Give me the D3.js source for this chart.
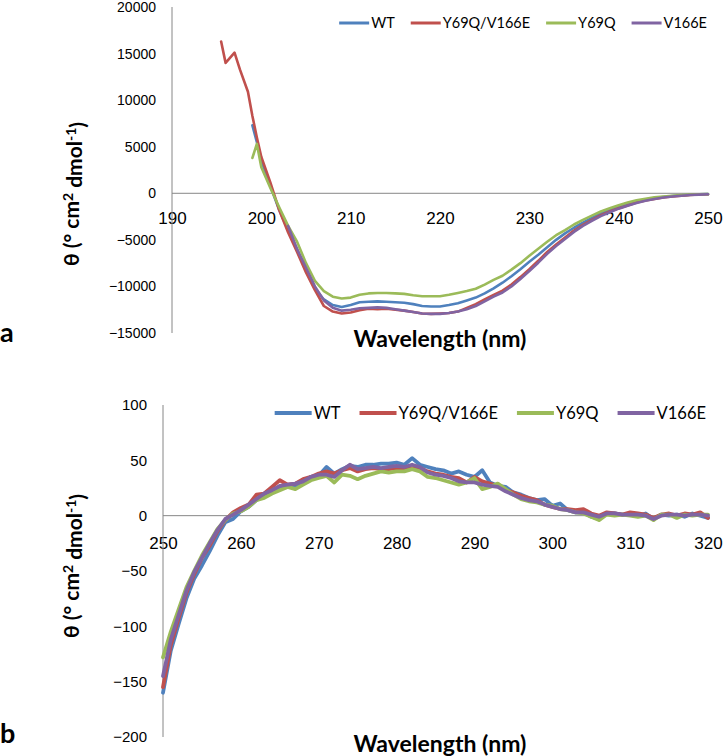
<!DOCTYPE html>
<html>
<head>
<meta charset="utf-8">
<style>
    body { margin: 0; background: #fff; }
    svg { display: block; font-family: 'Lato', sans-serif; }
    .tick text { fill: #000; }
</style>
</head>
<body>
<svg width="725" height="756"></svg>

<script src="https://cdnjs.cloudflare.com/ajax/libs/d3/7.8.5/d3.min.js"></script>
<script>
    // series names + excel 2007 colours
    const seriesNames = ["WT", "Y69Q/V166E", "Y69Q", "V166E"]
    const seriesColors = ["#4F81BD", "#C0504D", "#9BBB59", "#8064A2"]

    // ---- panel a : far UV ----
    const farWl = [195.5, 196, 197, 197.6, 198.5, 199, 199.5,
        200, 201, 202, 203, 204, 205, 206, 207, 208, 209,
        210, 211, 212, 213, 214, 215, 216, 217, 218, 219,
        220, 221, 222, 223, 224, 225, 226, 227, 228, 229,
        230, 231, 232, 233, 234, 235, 236, 237, 238, 239,
        240, 241, 242, 243, 244, 245, 246, 247, 248, 249, 250]

    const farWT = [null, null, null, null, null, 7300, 5500,
        3500, 800, -1800, -4000, -6000, -8300, -10200, -11400, -12000, -12200,
        -12000, -11700, -11650, -11600, -11650, -11700, -11750, -11900, -12100, -12150,
        -12150, -12000, -11800, -11500, -11200, -10750, -10200, -9600, -8900, -8150,
        -7350, -6600, -5800, -5000, -4300, -3700, -3150, -2650, -2150, -1800,
        -1450, -1150, -880, -680, -520, -400, -300, -220, -160, -120, -90]

    const farY69QV166E = [16300, 14000, 15100, 13300, 10900, 8300, 6000,
        3900, 1200, -1800, -4200, -6300, -8500, -10400, -12100, -12700, -12900,
        -12800, -12550, -12400, -12450, -12400, -12500, -12600, -12750, -12900, -12950,
        -12900, -12850, -12700, -12300, -11900, -11400, -10900, -10450, -9800, -9000,
        -8150, -7250, -6300, -5500, -4750, -4000, -3400, -2850, -2350, -1950,
        -1600, -1300, -1000, -780, -600, -450, -340, -250, -180, -130, -100]

    const farY69Q = [null, null, null, null, null, 3800, 5300,
        2800, 600, -1500, -3500, -5200, -7500, -9400, -10500, -11100, -11300,
        -11200, -10900, -10750, -10700, -10700, -10750, -10800, -10950, -11050, -11050,
        -11050, -10900, -10700, -10500, -10250, -9800, -9300, -8850, -8200, -7500,
        -6700, -5950, -5200, -4500, -3950, -3350, -2850, -2400, -1950, -1600,
        -1280, -1000, -750, -580, -440, -340, -260, -190, -140, -110, -90]

    const farV166E = [null, null, null, null, null, null, null,
        null, null, null, -3500, -6000, -8000, -10000, -11500, -12300, -12600,
        -12500, -12350, -12300, -12250, -12300, -12450, -12600, -12750, -12900, -12950,
        -12950, -12850, -12700, -12450, -12100, -11600, -11100, -10650, -10000, -9200,
        -8350, -7450, -6500, -5650, -4900, -4150, -3500, -2950, -2450, -2030,
        -1650, -1330, -1040, -800, -620, -460, -350, -260, -190, -140, -100]

    const farXTicks = [190, 200, 210, 220, 230, 240, 250]
    const farYTicks = [-15000, -10000, -5000, 0, 5000, 10000, 15000, 20000]

    // ---- panel b : near UV ----
    const nearWl = d3.range(250, 321) // 1 nm steps, 250..320

    const nearWT = [-160, -122, -98, -75, -57, -45, -32, -18, -6, -3,
        4, 8, 14, 19, 23, 25, 27, 26, 31, 35,
        36, 44, 38, 42, 45, 44, 46, 46, 47, 47,
        48, 46, 52, 46, 44, 42, 41, 38, 40, 37,
        35, 41, 30, 27, 26, 21, 19, 16, 14, 15,
        9, 11, 5, 3, 3, -1, -3, 2, 2, 1,
        1, 0, 2, -3, 1, 0, 1, -1, 2, 0, -2]

    const nearY69QV166E = [-155, -117, -93, -70, -53, -38, -27, -14, -4, 3,
        7, 10, 19, 20, 26, 32, 28, 29, 33, 35,
        38, 40, 38, 41, 43, 40, 42, 43, 42, 42,
        43, 42, 43, 43, 40, 38, 37, 35, 34, 30,
        35, 31, 29, 27, 23, 21, 18, 16, 14, 10,
        8, 6, 6, 5, 6, 2, 0, 3, 2, 1,
        3, 2, 1, -2, 1, 2, 0, 2, 1, 3, -2]

    const nearY69Q = [-128, -105, -85, -65, -50, -36, -24, -12, -4, 2,
        4, 8, 14, 16, 20, 23, 26, 24, 28, 32,
        34, 36, 30, 37, 36, 33, 36, 38, 40, 39,
        40, 40, 42, 40, 35, 34, 32, 30, 28, 30,
        34, 24, 26, 29, 24, 19, 15, 13, 12, 10,
        9, 6, 5, 3, 2, -1, -4, 1, 0, 1,
        0, -1, 0, -4, 1, 1, -2, 1, 0, 1, 1]

    const nearV166E = [-145, -112, -90, -68, -51, -38, -25, -13, -3, 1,
        5, 10, 15, 20, 23, 27, 28, 29, 31, 35,
        37, 37, 35, 41, 46, 42, 43, 44, 43, 44,
        45, 44, 46, 44, 39, 37, 36, 34, 31, 30,
        30, 28, 27, 26, 22, 19, 16, 14, 13, 10,
        8, 6, 5, 3, 3, 1, -1, 2, 2, 1,
        1, 1, 0, -3, 0, 1, 1, 0, 1, 1, 0]

    const nearXTicks = [250, 260, 270, 280, 290, 300, 310, 320]
    const nearYTicks = [-200, -150, -100, -50, 0, 50, 100]

    const svg = d3.select("svg")
    const axisColor = "#868686"

    function drawPanel(cfg) {
        let g = svg.append("g")

        let x = d3.scaleLinear().domain(cfg.xDomain).range(cfg.xRange)
        let y = d3.scaleLinear().domain(cfg.yDomain).range(cfg.yRange)

        // y axis
        let yAx = g.append("g")
            .attr("transform", `translate(${cfg.xRange[0]},0)`)
            .call(d3.axisLeft(y).tickValues(cfg.yTicks).tickSize(0).tickPadding(16).tickFormat(d3.format("d")))
        yAx.select(".domain").remove()
        yAx.selectAll("text").style("font-size", cfg.yTickSize + "px")

        // x axis sits on zero
        let xAx = g.append("g")
            .attr("transform", `translate(0,${y(0)})`)
            .call(d3.axisBottom(x).tickValues(cfg.xTicks).tickSize(0).tickPadding(cfg.xPad).tickFormat(d3.format("d")))
        xAx.select(".domain").remove()
        xAx.selectAll("text").style("font-size", cfg.xTickSize + "px")

        g.append("line")
            .attr("x1", x(cfg.xDomain[0])).attr("x2", x(cfg.xDomain[0]))
            .attr("y1", y(cfg.yDomain[0])).attr("y2", y(cfg.yDomain[1]))
            .style("stroke", axisColor)
        g.append("line")
            .attr("x1", x(cfg.xDomain[0])).attr("x2", x(cfg.xDomain[1]))
            .attr("y1", y(0)).attr("y2", y(0))
            .style("stroke", axisColor)

        // curves
        let line = d3.line()
            .defined(d => d[1] != null)
            .x(d => x(d[0]))
            .y(d => y(d[1]))

        cfg.series.forEach((vals, i) => {
            g.append("path")
                .datum(cfg.wl.map((w, j) => [w, vals[j]]))
                .attr("d", line)
                .style("fill", "none")
                .style("stroke", seriesColors[i])
                .style("stroke-width", cfg.lineW)
                .style("stroke-linejoin", "round")
                .style("stroke-linecap", "round")
        })

        // legend, right aligned
        let leg = g.append("g")
        let cx = 0
        seriesNames.forEach((name, i) => {
            leg.append("line")
                .attr("x1", cx).attr("x2", cx + cfg.legLine)
                .attr("y1", 0).attr("y2", 0)
                .style("stroke", seriesColors[i])
                .style("stroke-width", cfg.legW)
            let t = leg.append("text")
                .attr("x", cx + cfg.legLine + 2)
                .attr("y", 0)
                .attr("dy", "0.35em")
                .style("font-size", cfg.legSize + "px")
                .text(name)
            cx += cfg.legLine + 2 + t.node().getComputedTextLength()
            if (i < seriesNames.length - 1) cx += cfg.legSpace
        })
        leg.attr("transform", `translate(${cfg.legRight - cx},${cfg.legY})`)

        // titles
        g.append("text")
            .attr("x", 440).attr("y", cfg.xTitleY)
            .attr("text-anchor", "middle")
            .style("font-size", "23px").style("font-weight", "bold")
            .text("Wavelength (nm)")

        let yt = g.append("text")
            .attr("transform", `translate(79,${cfg.yTitleC}) rotate(-90)`)
            .attr("text-anchor", "middle")
            .style("font-size", "21px").style("font-weight", "bold")
        yt.append("tspan").text("θ (° cm")
        yt.append("tspan").attr("dy", "-0.45em").style("font-size", "14px").text("2")
        yt.append("tspan").attr("dy", "0.45em").text(" dmol")
        yt.append("tspan").attr("dy", "-0.45em").style("font-size", "14px").text("-1")
        yt.append("tspan").attr("dy", "0.45em").text(")")

        g.append("text")
            .attr("x", 0).attr("y", cfg.letterY)
            .style("font-size", "27px").style("font-weight", "bold")
            .text(cfg.letter)
    }

    drawPanel({
        wl: farWl,
        series: [farWT, farY69QV166E, farY69Q, farV166E],
        xDomain: [190, 250], xRange: [172, 708],
        yDomain: [-15000, 20000], yRange: [333, 7],
        xTicks: farXTicks, yTicks: farYTicks,
        xTickSize: 17, yTickSize: 14, xPad: 19,
        lineW: 2.6,
        legLine: 30, legW: 3, legSize: 14.5, legSpace: 16, legRight: 707, legY: 23,
        xTitleY: 347, yTitleC: 194,
        letter: "a", letterY: 342
    })

    drawPanel({
        wl: nearWl,
        series: [nearWT, nearY69QV166E, nearY69Q, nearV166E],
        xDomain: [250, 320], xRange: [163, 708],
        yDomain: [-200, 100], yRange: [737, 405],
        xTicks: nearXTicks, yTicks: nearYTicks,
        xTickSize: 17, yTickSize: 15, xPad: 21,
        lineW: 3.8,
        legLine: 37, legW: 4, legSize: 16.5, legSpace: 19, legRight: 706, legY: 413,
        xTitleY: 752, yTitleC: 566,
        letter: "b", letterY: 743
    })
</script>
</body>
</html>
